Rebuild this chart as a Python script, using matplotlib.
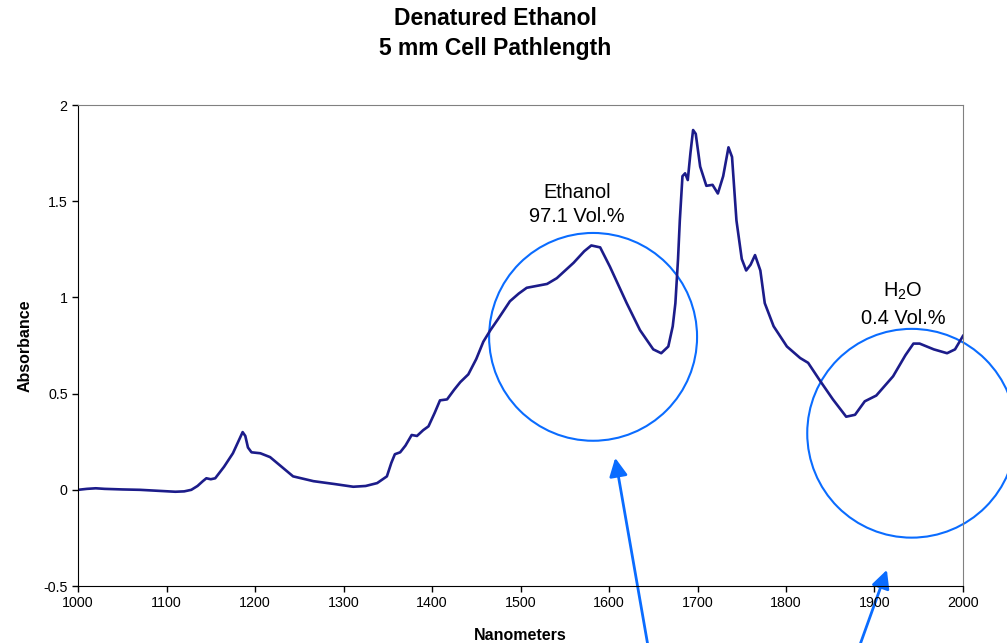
import numpy as np
import matplotlib
matplotlib.use('Agg')
import matplotlib.pyplot as plt
from matplotlib.patches import Ellipse, FancyArrowPatch

plt.rcParams['font.family'] = ['Liberation Sans', 'DejaVu Sans']
plt.rcParams['mathtext.fontset'] = 'custom'
plt.rcParams['mathtext.rm'] = 'Liberation Sans'

# spectrum
nm = [1000, 1010, 1020, 1030, 1050, 1070, 1090, 1110, 1120, 1128, 1135, 1141,
      1145, 1150, 1155, 1165, 1175, 1181, 1186, 1189, 1192, 1196, 1206, 1217,
      1230, 1243, 1266, 1290, 1311, 1325, 1338, 1349, 1354, 1358, 1364, 1370,
      1377, 1383, 1390, 1396, 1403, 1409, 1417, 1425, 1432, 1441, 1450, 1458,
      1466, 1475, 1488, 1498, 1507, 1530, 1541, 1560, 1572, 1580, 1590, 1601,
      1610, 1620, 1635, 1650, 1659, 1667, 1672, 1675, 1678, 1680, 1683, 1686,
      1689, 1692, 1695, 1698, 1703, 1710, 1717, 1723, 1729, 1735, 1739, 1744,
      1750, 1755, 1760, 1765, 1771, 1776, 1786, 1801, 1816, 1825, 1838, 1853,
      1868, 1878, 1889, 1902, 1921, 1935, 1944, 1951, 1967, 1982, 1991, 2000]
absorbance = [0.0, 0.005, 0.008, 0.005, 0.002, 0.0, -0.005, -0.01, -0.008, 0.0,
              0.02, 0.045, 0.06, 0.055, 0.06, 0.12, 0.19, 0.25, 0.30, 0.28,
              0.22, 0.195, 0.19, 0.17, 0.12, 0.07, 0.045, 0.03, 0.016, 0.02,
              0.035, 0.07, 0.14, 0.185, 0.195, 0.23, 0.285, 0.28, 0.31, 0.33,
              0.40, 0.465, 0.47, 0.52, 0.56, 0.60, 0.68, 0.77, 0.83, 0.89,
              0.98, 1.02, 1.05, 1.07, 1.10, 1.18, 1.24, 1.27, 1.26, 1.16,
              1.07, 0.97, 0.83, 0.73, 0.71, 0.745, 0.85, 0.97, 1.2, 1.40,
              1.63, 1.645, 1.61, 1.75, 1.87, 1.85, 1.68, 1.58, 1.585, 1.54,
              1.63, 1.78, 1.73, 1.40, 1.20, 1.14, 1.17, 1.22, 1.14, 0.97,
              0.85, 0.745, 0.685, 0.66, 0.57, 0.47, 0.38, 0.39, 0.46, 0.49,
              0.59, 0.70, 0.76, 0.76, 0.73, 0.71, 0.73, 0.80]

x_ticks = [1000, 1100, 1200, 1300, 1400, 1500, 1600, 1700, 1800, 1900, 2000]
y_ticks = [-0.5, 0, 0.5, 1, 1.5, 2]
y_labels = ['-0.5', '0', '0.5', '1', '1.5', '2']

fig = plt.figure(figsize=(10.07, 6.43), dpi=100)
ax = fig.add_axes([0.0775, 0.0886, 0.8788, 0.7481])

ax.plot(nm, absorbance, color='#1c1c8a', lw=1.9)

ax.set_xlim(1000, 2000)
ax.set_ylim(-0.5, 2)
ax.set_xticks(x_ticks)
ax.set_yticks(y_ticks)
ax.set_yticklabels(y_labels)
ax.tick_params(labelsize=10.3, length=4, direction='out', width=1)
ax.spines['top'].set_color('#808080')
ax.spines['right'].set_color('#808080')
ax.set_xlabel('Nanometers', fontsize=11.5, fontweight='bold')
ax.set_ylabel('Absorbance', fontsize=11.5, fontweight='bold')
ax.xaxis.set_label_coords(0.5, -0.102)
ax.xaxis.label.set_va('center')
ax.yaxis.set_label_coords(-0.06, 0.5)
ax.yaxis.label.set_va('center')

fig.text(0.492, 0.972, 'Denatured Ethanol', ha='center', va='center',
         fontsize=16.5, fontweight='bold')
fig.text(0.492, 0.925, '5 mm Cell Pathlength', ha='center', va='center',
         fontsize=16.5, fontweight='bold')

# highlighted regions
blue = '#0a6cff'
ax.add_patch(Ellipse((1582, 0.795), 235, 1.08, fill=False, ec=blue, lw=1.5,
                     clip_on=False))
ax.add_patch(Ellipse((1942, 0.294), 236, 1.085, fill=False, ec=blue, lw=1.5,
                     clip_on=False))
ax.text(1564, 1.544, 'Ethanol', ha='center', va='center', fontsize=14.4)
ax.text(1564, 1.419, '97.1 Vol.%', ha='center', va='center', fontsize=14.4)
ax.text(1932, 1.029, 'H$_2$O', ha='center', va='center', fontsize=14.4)
ax.text(1932, 0.889, '0.4 Vol.%', ha='center', va='center', fontsize=14.4)

for tail, head in [((1647, -0.89), (1607, 0.166)),
                   ((1877, -0.89), (1914, -0.416))]:
    ax.add_patch(FancyArrowPatch(tail, head,
                                 arrowstyle='-|>,head_length=11,head_width=5.5',
                                 color=blue, lw=2, clip_on=False,
                                 shrinkA=0, shrinkB=0))

fig.savefig('out.png', dpi=100)
